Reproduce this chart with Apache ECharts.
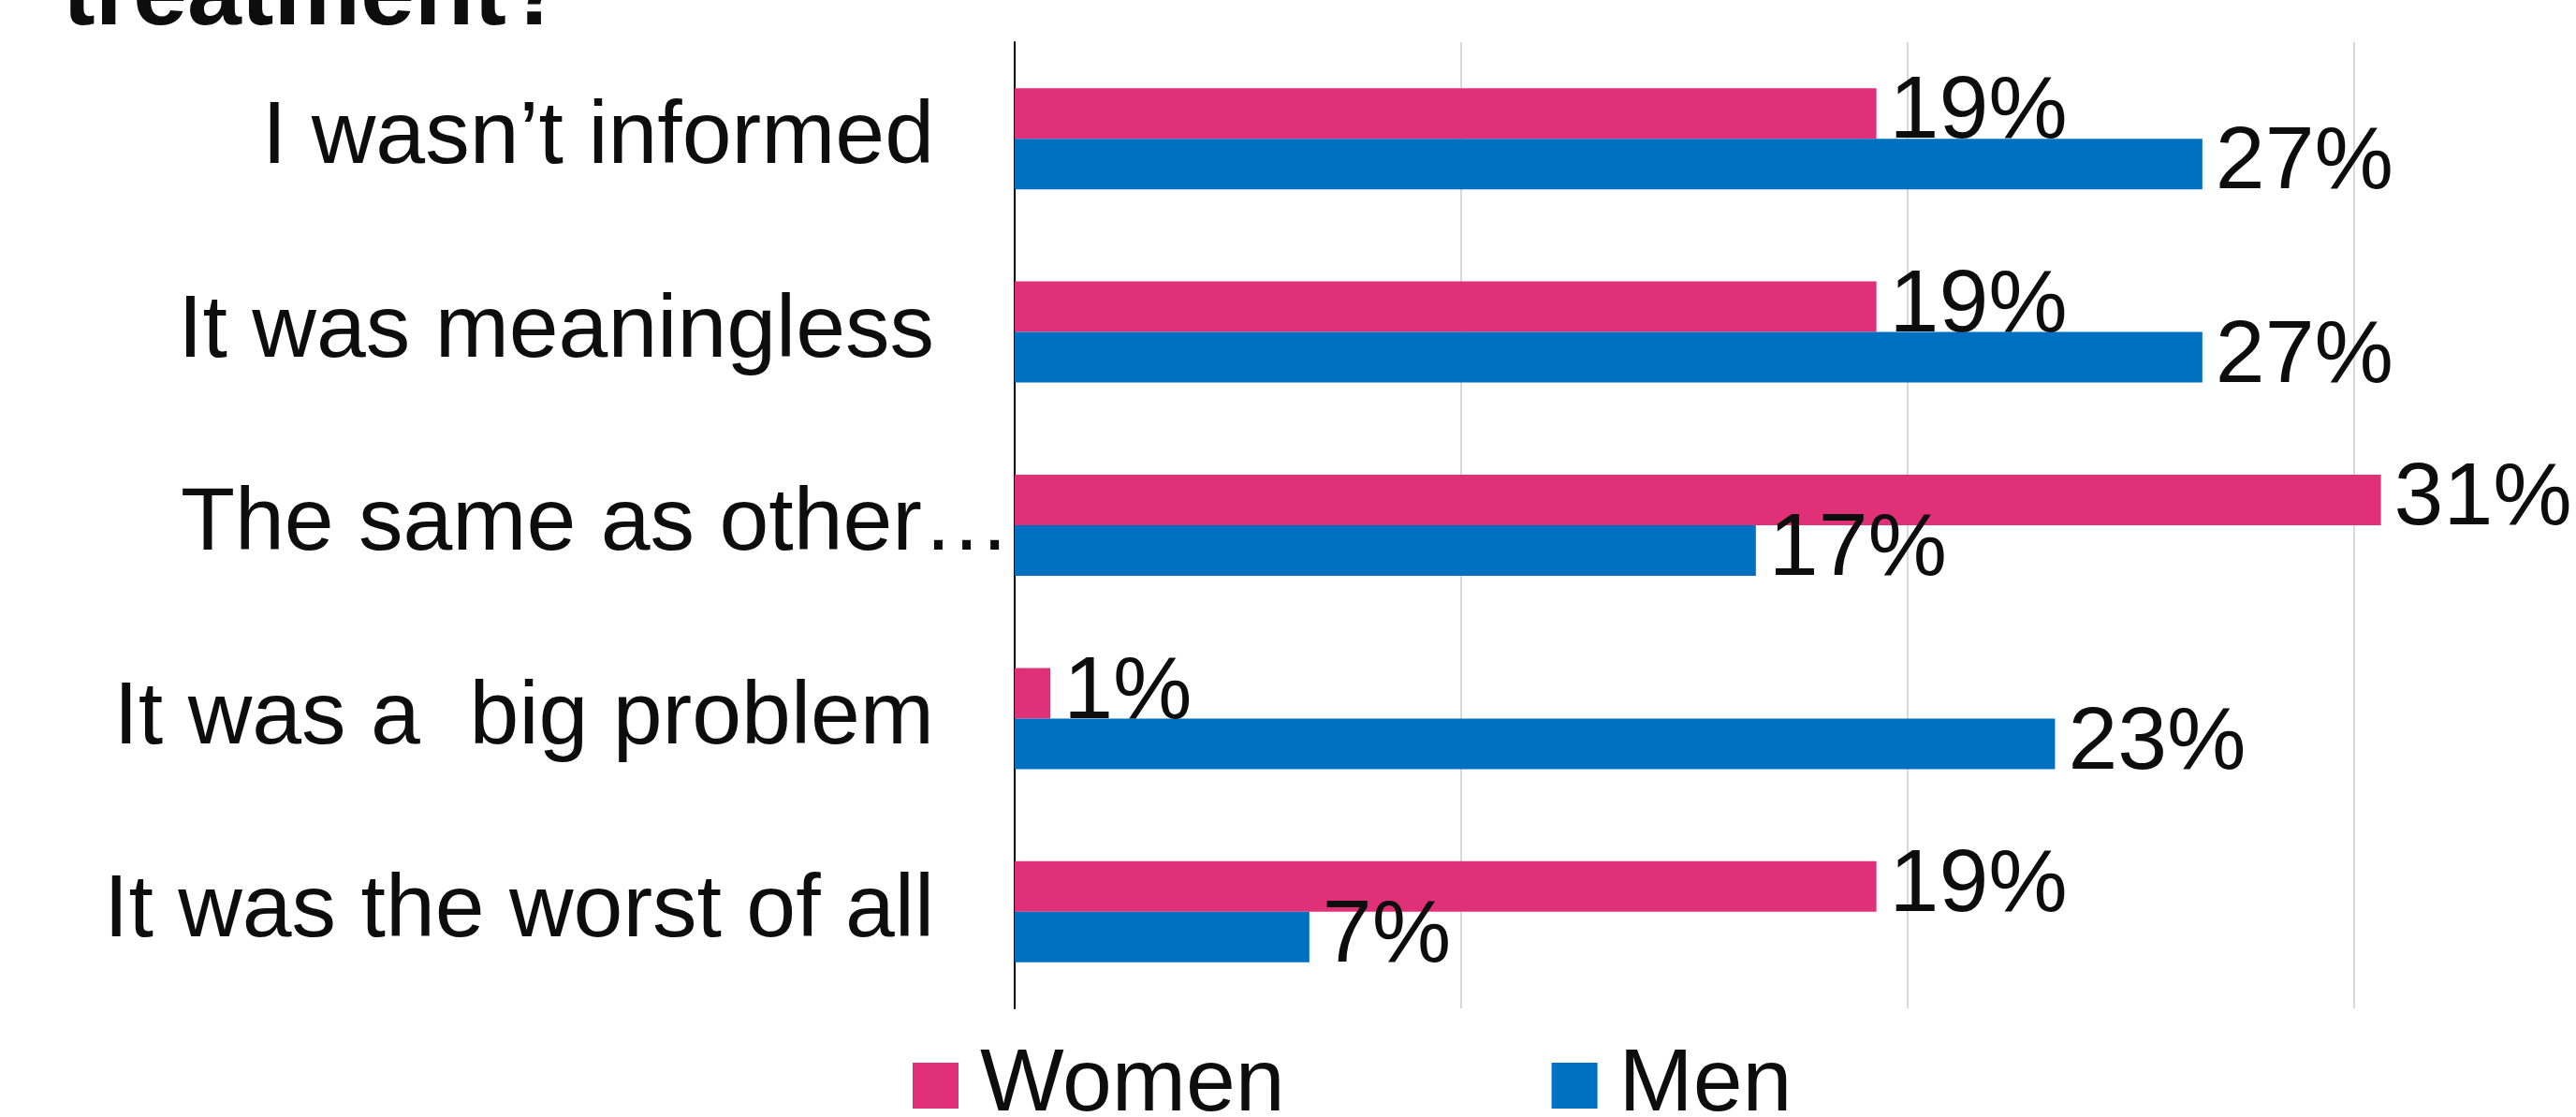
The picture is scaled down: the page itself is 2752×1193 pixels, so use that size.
<!DOCTYPE html>
<html>
<head>
<meta charset="utf-8">
<script src="https://cdn.jsdelivr.net/npm/echarts@6/dist/echarts.min.js"></script>
<style>
html,body{margin:0;padding:0;background:#fff;}
#chart{width:2752px;height:1193px;}
</style>
</head>
<body>
<div id="chart"></div>
<script>
const titleText = 'treatment?';
const categories = ['I wasn\u2019t informed', 'It was meaningless', 'The same as other\u2026', 'It was a  big problem', 'It was the worst of all'];
const seriesNames = ['Women', 'Men'];
const women = [19.3, 19.3, 30.6, 0.8, 19.3];
const men = [26.6, 26.6, 16.6, 23.3, 6.6];

const FONT = "'Liberation Sans', Arial, sans-serif";
const TXT = '#0d0d0d';
const chart = echarts.init(document.getElementById('chart'), null, {renderer: 'canvas'});

function mkSeries(name, data, color) {
  return {
    name: name,
    type: 'bar',
    data: data,
    barWidth: 54,
    barGap: '0%',
    itemStyle: {color: color},
    label: {
      show: true,
      position: 'right',
      distance: 14,
      fontFamily: FONT,
      fontSize: 95,
      color: TXT,
      formatter: p => Math.round(p.value) + '%'
    }
  };
}

chart.setOption({
  backgroundColor: '#ffffff',
  animation: false,
  title: {
    text: titleText,
    left: 62,
    top: -60,
    textStyle: {fontFamily: FONT, fontWeight: 'bold', fontSize: 104, color: TXT}
  },
  legend: {
    data: seriesNames,
    left: 970,
    top: 1107,
    icon: 'rect',
    itemWidth: 49,
    itemHeight: 49,
    itemGap: 285,
    textStyle: {fontFamily: FONT, fontSize: 95, color: TXT, padding: [0, 0, 0, 18]}
  },
  grid: {left: 1084, top: 45, height: 1032, width: 1621.8, containLabel: false},
  xAxis: {
    type: 'value',
    min: 0,
    max: 34,
    interval: 10,
    axisLabel: {show: false},
    axisLine: {show: false},
    axisTick: {show: false},
    splitLine: {show: true, showMinLine: false, showMaxLine: false, lineStyle: {color: '#d9d9d9', width: 2}}
  },
  yAxis: {
    type: 'category',
    inverse: true,
    data: categories,
    axisLine: {show: true, lineStyle: {color: '#000', width: 2}},
    axisTick: {show: false},
    axisLabel: {
      margin: 4,
      fontFamily: FONT,
      fontSize: 95,
      color: TXT,
      formatter: v => (v.endsWith('\u2026') ? '{l|' + v + '}' : '{n|' + v + '}'),
      rich: {
        n: {fontFamily: FONT, fontSize: 95, color: TXT, padding: [0, 82, 0, 0]},
        l: {fontFamily: FONT, fontSize: 95, color: TXT}
      }
    }
  },
  series: [mkSeries(seriesNames[0], women, '#E03178'), mkSeries(seriesNames[1], men, '#0070C0')]
});
</script>
</body>
</html>
